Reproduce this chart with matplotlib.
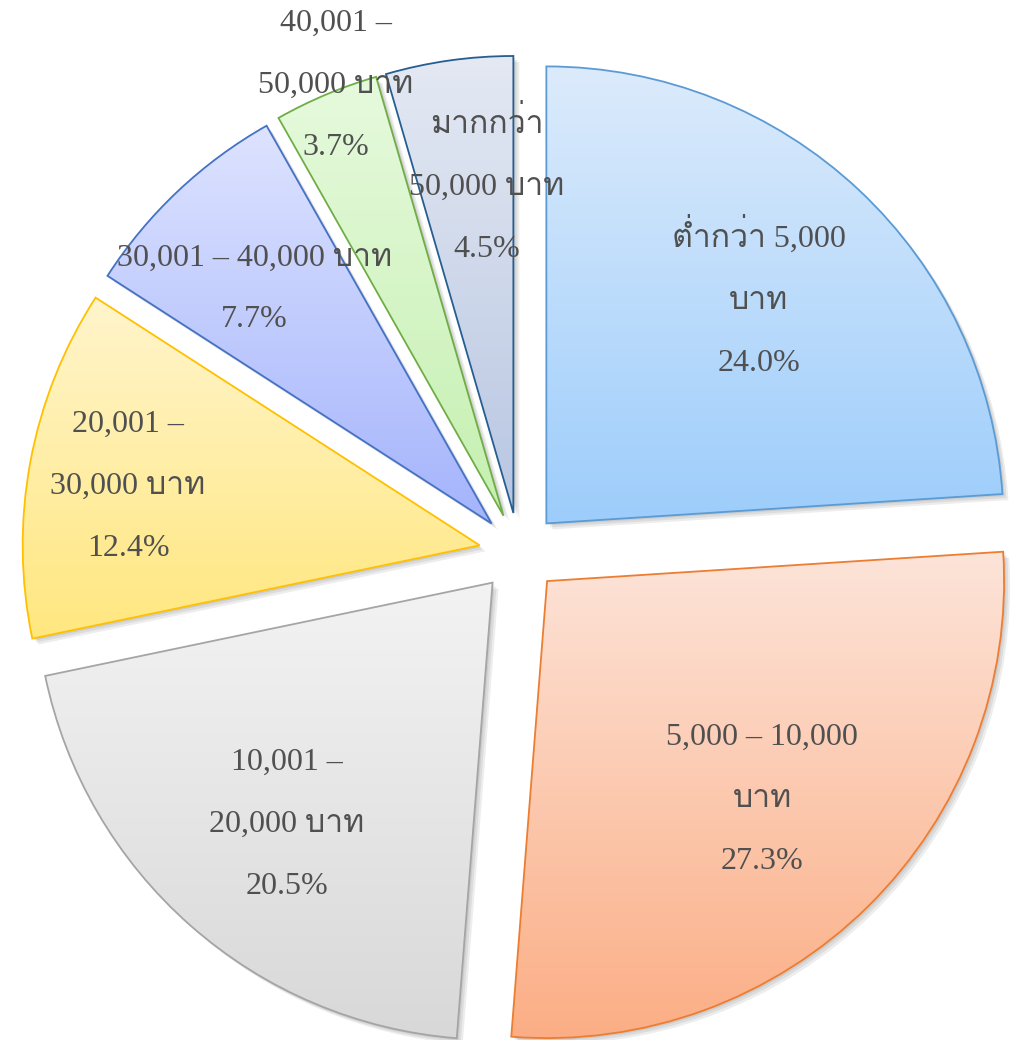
import matplotlib
matplotlib.use("Agg")
import matplotlib.pyplot as plt
import numpy as np
from matplotlib import font_manager, ft2font
from matplotlib.colors import LinearSegmentedColormap
from matplotlib.patches import Wedge

labels = ["ต่ำกว่า 5,000\nบาท", "5,000 – 10,000\nบาท", "10,001 –\n20,000 บาท",
          "20,001 –\n30,000 บาท", "30,001 – 40,000 บาท", "40,001 –\n50,000 บาท",
          "มากกว่า\n50,000 บาท"]
values = [24.0, 27.3, 20.5, 12.4, 7.7, 3.7, 4.5]

top_colors = ["#dcebfc", "#fde4d9", "#f3f3f3", "#fff5cc", "#dde3ff", "#e6fadd", "#e4e9f3"]
bottom_colors = ["#9dcdfb", "#fbae85", "#d8d8d8", "#ffe77f", "#a4b4fc", "#c5f0b0", "#b8c6e2"]
edge_colors = ["#5b9bd5", "#ed7d31", "#a5a5a5", "#ffc000", "#4472c4", "#70ad47", "#255e91"]
# label placement: fraction of radius, and clockwise angle nudge in degrees
label_dist = [0.68, 0.67, 0.695, 0.78, 0.73, 1.01, 0.72]
label_nudge = [0, 0, -1, -1, -2, 1.5, 3.5]


def thai_font():
    # look for any installed font that has Thai glyphs
    for f in sorted(font_manager.findSystemFonts()):
        try:
            if 0x0E01 in ft2font.FT2Font(f).get_charmap():
                return font_manager.FontProperties(fname=f).get_name()
        except Exception:
            pass
    return None


families = ["Liberation Serif"]
tf = thai_font()
if tf:
    families.append(tf)
families.append("DejaVu Sans")

W, H = 1017, 1040
fig = plt.figure(figsize=(W / 100, H / 100), dpi=100)
ax = fig.add_axes([0, 0, 1, 1])

radius = 457
center = (519, H - 552.6)
explode = [40] * len(values)

wedges, _ = ax.pie(values, radius=radius, center=center, explode=explode,
                   startangle=90, counterclock=False, frame=True,
                   wedgeprops=dict(linewidth=1.3))

for i, w in enumerate(wedges):
    # soft shadow
    for off in [2, 4, 6]:
        sh = Wedge((w.center[0] + off, w.center[1] - off), w.r, w.theta1, w.theta2,
                   facecolor="black", edgecolor="none", alpha=0.07, zorder=0.5)
        ax.add_patch(sh)
    w.set_facecolor("none")
    w.set_edgecolor(edge_colors[i])
    w.set_zorder(3)
    bb = w.get_path().get_extents(w.get_patch_transform())
    cmap = LinearSegmentedColormap.from_list("g%d" % i, [bottom_colors[i], top_colors[i]])
    grad = np.linspace(0, 1, 256).reshape(-1, 1)
    im = ax.imshow(grad, cmap=cmap, origin="lower", aspect="auto",
                   extent=[bb.x0, bb.x1, bb.y0, bb.y1], zorder=2, interpolation="bicubic")
    im.set_clip_path(w)

    mid = np.deg2rad((w.theta1 + w.theta2) / 2 - label_nudge[i])
    tx = w.center[0] + label_dist[i] * w.r * np.cos(mid)
    ty = w.center[1] + label_dist[i] * w.r * np.sin(mid)
    ax.text(tx, ty, "%s\n%.1f%%" % (labels[i], values[i]), ha="center", va="center",
            fontsize=23, color="#505050", family=families, linespacing=2.5,
            multialignment="center", zorder=5)

ax.set_xlim(0, W)
ax.set_ylim(0, H)
ax.set_aspect("equal")
ax.axis("off")
fig.savefig("out.png", dpi=100)
